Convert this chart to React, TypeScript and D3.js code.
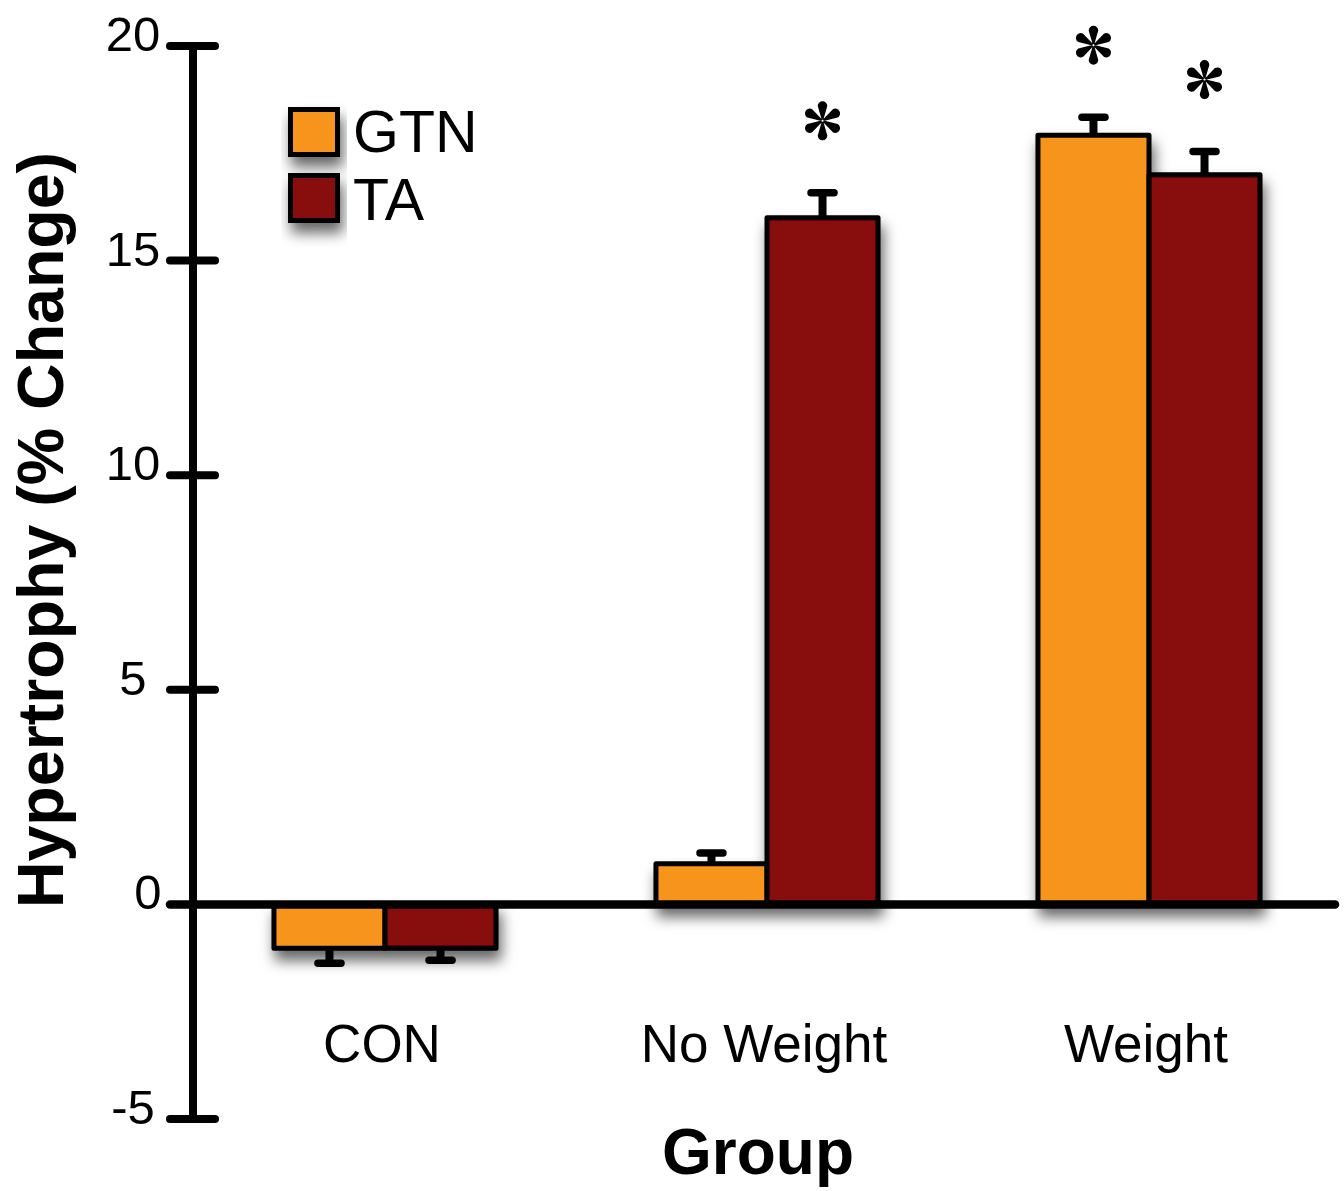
import React from 'react';
import * as d3 from 'd3';

const categories = ['CON', 'No Weight', 'Weight'];
const series = ['GTN', 'TA'];
const gtnValues = [-1.02, 0.95, 17.92];
const gtnErrors = [0.35, 0.25, 0.42];
const taValues = [-1.02, 16.0, 17.0];
const taErrors = [0.28, 0.58, 0.54];
const gtnSignificant = [false, false, true];
const taSignificant = [false, true, true];
const yTicks = [-5, 0, 5, 10, 15, 20];

const colors: Record<string, string> = { GTN: '#F7941D', TA: '#880909' };

const W = 1344;
const H = 1191;

// six teardrop petals, like the asterisk glyph in the figure
const asteriskPath = (() => {
  const L = 19.5, r = 4.8;
  let d = '';
  for (let i = 0; i < 6; i++) {
    const a = (i * Math.PI) / 3;
    const rot = (px: number, py: number) => {
      const xx = px * Math.cos(a) - py * Math.sin(a);
      const yy = px * Math.sin(a) + py * Math.cos(a);
      return `${xx.toFixed(2)},${yy.toFixed(2)}`;
    };
    d += `M${rot(-0.8, -1)}L${rot(-r, -(L - r))}A${r},${r} 0 0 1 ${rot(r, -(L - r))}L${rot(0.8, -1)}Z`;
  }
  return d;
})();

const App = () => {
  const x = d3.scaleBand().domain(categories).range([193, 1339]);
  const xSub = d3.scaleBand().domain(series).range([0, x.bandwidth()]).paddingOuter(0.72);
  const y = d3.scaleLinear().domain([-5, 20]).range([1119, 46]);

  const rows = categories.flatMap((c, i) => [
    { cat: c, s: 'GTN', v: gtnValues[i], e: gtnErrors[i], sig: gtnSignificant[i] },
    { cat: c, s: 'TA', v: taValues[i], e: taErrors[i], sig: taSignificant[i] },
  ]);

  const bw = xSub.bandwidth();
  const font = '"Liberation Sans", Arial, Helvetica, sans-serif';

  return (
    <svg width={W} height={H} style={{ position: 'absolute', left: 0, top: 0, background: '#fff' }}>
      <defs>
        <filter id="shadow" x="-20%" y="-20%" width="140%" height="160%">
          <feDropShadow dx="3" dy="10" stdDeviation="7" floodColor="#000" floodOpacity="0.6" />
        </filter>
      </defs>

      {/* bars */}
      <g filter="url(#shadow)">
        {rows.map((d, i) => {
          const x0 = (x(d.cat) ?? 0) + (xSub(d.s) ?? 0);
          const top = Math.min(y(d.v), y(0));
          const h = Math.abs(y(d.v) - y(0));
          return (
            <rect key={i} x={x0 + 1} y={top} width={bw} height={h}
              fill={colors[d.s]} stroke="#000" strokeWidth={5} strokeLinejoin="round" />
          );
        })}
      </g>

      {/* error bars */}
      {rows.map((d, i) => {
        const cx = (x(d.cat) ?? 0) + (xSub(d.s) ?? 0) + bw / 2 + 1;
        const end = d.v >= 0 ? d.v + d.e : d.v - d.e;
        return (
          <g key={i}>
            <line x1={cx} x2={cx} y1={y(d.v)} y2={y(end)} stroke="#000" strokeWidth={8} />
            <line x1={cx - 11.5} x2={cx + 11.5} y1={y(end)} y2={y(end)} stroke="#000" strokeWidth={7.5} strokeLinecap="round" />
          </g>
        );
      })}

      {/* significance marks */}
      {rows.filter(d => d.sig).map((d, i) => {
        const cx = (x(d.cat) ?? 0) + (xSub(d.s) ?? 0) + bw / 2 + 1;
        return <path key={i} d={asteriskPath} fill="#000" transform={`translate(${cx},${y(d.v + d.e) - 72})`} />;
      })}

      {/* y axis */}
      <line x1={193} x2={193} y1={y(20)} y2={y(-5)} stroke="#000" strokeWidth={8} />
      {yTicks.map(t => (
        <g key={t}>
          <line x1={170} x2={t === 0 ? 1335 : 215} y1={y(t)} y2={y(t)}
            stroke="#000" strokeWidth={t === 0 ? 8.5 : 8} strokeLinecap="round" />
          <text x={t === 0 ? 148 : 133} y={y(t) + 5} textAnchor="middle" fontFamily={font} fontSize={49} fill="#000">
            {t}
          </text>
        </g>
      ))}

      {/* category labels */}
      {categories.map(c => (
        <text key={c} x={(x(c) ?? 0) + x.bandwidth() / 2 - 2} y={1062} textAnchor="middle"
          fontFamily={font} fontSize={53} fill="#000">{c}</text>
      ))}

      {/* axis titles */}
      <text x={758} y={1174} textAnchor="middle" fontFamily={font} fontSize={64} fontWeight="bold">Group</text>
      <text transform="translate(63,530) rotate(-90)" textAnchor="middle" fontFamily={font} fontSize={64.5} fontWeight="bold">
        Hypertrophy (% Change)
      </text>

      {/* legend */}
      <g filter="url(#shadow)">
        {series.map((s, i) => (
          <rect key={s} x={290.5} y={109.5 + i * 66} width={47} height={45}
            fill={colors[s]} stroke="#000" strokeWidth={5} />
        ))}
      </g>
      {series.map((s, i) => (
        <text key={s} x={353} y={152 + i * 68} fontFamily={font} fontSize={59} fill="#000">{s}</text>
      ))}
    </svg>
  );
};

export default App;
